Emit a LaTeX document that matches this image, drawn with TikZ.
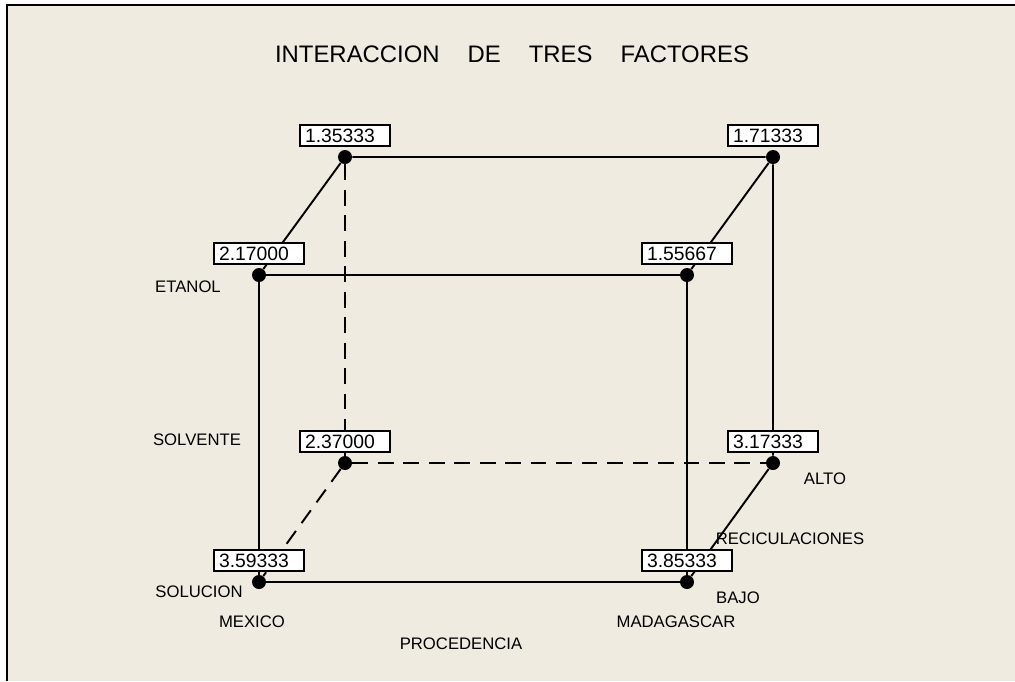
\documentclass[tikz,border=0pt]{standalone}
\usepackage{fontspec}
\setmainfont{Liberation Sans}
\usetikzlibrary{positioning}
\definecolor{paper}{RGB}{239,235,225}

\begin{document}
\begin{tikzpicture}[x=0.02cm, y=-0.02cm,
    dot/.style={circle, fill=black, inner sep=0pt, minimum size=0.28cm},
    valbox/.style={draw, fill=white, line width=0.8pt, inner xsep=0.1cm, inner ysep=0pt,
        text width=1.6cm, minimum height=0.42cm, align=left, font=\fontsize{11}{11}\selectfont},
    lbl/.style={font=\fontsize{9.5}{10}\selectfont},
    edge/.style={line width=1.1pt},
    hidden/.style={edge, dash pattern=on 9pt off 5.5pt}]
    \useasboundingbox (0, 0) rectangle (1015, 681);
    \fill[white] (0, 0) rectangle (1015, 681);
    \fill[paper] (7, 5) rectangle (1015, 681);
    \draw[line width=1.2pt] (7, 681) to (7, 5) to (1015, 5);

    \node[font=\fontsize{13.6}{14}\selectfont] (title) at (512, 54)
        {INTERACCION\hspace{0.56cm}DE\hspace{0.56cm}TRES\hspace{0.56cm}FACTORES};

    % front face = BAJO, back face = ALTO
    \node[dot] (msb) at (259, 582) {};
    \node[dot] (gsb) at (687, 582) {};
    \node[dot] (meb) at (259, 275) {};
    \node[dot] (geb) at (687, 275) {};
    \node[dot] (mea) at (345, 157) {};
    \node[dot] (gea) at (773, 157) {};
    \node[dot] (msa) at (345, 463) {};
    \node[dot] (gsa) at (773, 463) {};

    \draw[edge] (msb) to (gsb) to (geb) to (meb) to (msb);
    \draw[edge] (meb) to (mea) to (gea) to (geb);
    \draw[edge] (gea) to (gsa) to (gsb);
    \draw[hidden] (mea) to (msa);
    \draw[hidden] (msa) to (gsa);
    \draw[hidden] (msa) to (msb);

    \node[valbox, above=0.06cm of mea] (vmea) {1.35333};
    \node[valbox, above=0.06cm of gea] (vgea) {1.71333};
    \node[valbox, above=0.06cm of meb] (vmeb) {2.17000};
    \node[valbox, above=0.06cm of geb] (vgeb) {1.55667};
    \node[valbox, above=0.06cm of msa] (vmsa) {2.37000};
    \node[valbox, above=0.06cm of gsa] (vgsa) {3.17333};
    \node[valbox, above=0.06cm of msb] (vmsb) {3.59333};
    \node[valbox, above=0.06cm of gsb] (vgsb) {3.85333};

    \node[lbl] (etanol) at (188, 287) {ETANOL};
    \node[lbl] (solvente) at (197, 440) {SOLVENTE};
    \node[lbl] (solucion) at (199, 592) {SOLUCION};
    \node[lbl] (mexico) at (252, 622) {MEXICO};
    \node[lbl] (madagascar) at (676, 622) {MADAGASCAR};
    \node[lbl] (procedencia) at (461, 644) {PROCEDENCIA};
    \node[lbl] (bajo) at (738, 598) {BAJO};
    \node[lbl] (recic) at (790, 539) {RECICULACIONES};
    \node[lbl] (alto) at (825, 479) {ALTO};
\end{tikzpicture}
\end{document}
